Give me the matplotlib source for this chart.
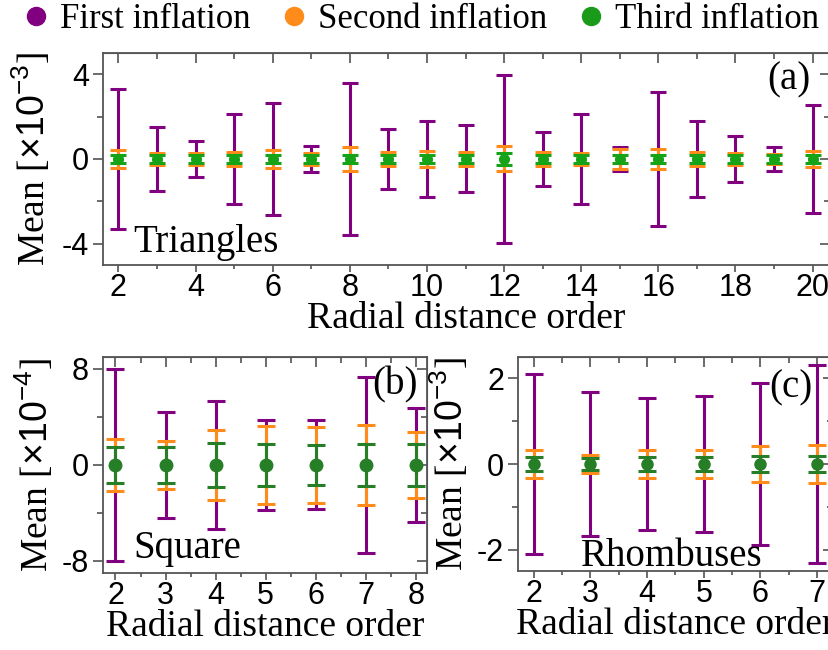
import matplotlib
matplotlib.use("Agg")
import matplotlib.pyplot as plt
from matplotlib.lines import Line2D
from matplotlib.ticker import MultipleLocator

plt.rcParams['font.family'] = ['Liberation Serif', 'DejaVu Serif']
plt.rcParams['mathtext.fontset'] = 'custom'
plt.rcParams['mathtext.rm'] = 'Liberation Sans'
plt.rcParams['mathtext.it'] = 'Liberation Sans'
plt.rcParams['axes.unicode_minus'] = False

PURPLE = "#800080"
ORANGE = "#ff8c1a"
GREEN_A = "#17a317"
GREEN_BC = "#267f26"

# (a) triangles, values in units of 1e-3
orders_a = [2, 3, 4, 5, 6, 7, 8, 9, 10, 11, 12, 13, 14, 15, 16, 17, 18, 19, 20]
mean_a = [0, 0, 0, 0, 0, 0, 0, 0, 0, 0, 0, 0, 0, 0, 0, 0, 0, 0, 0]
first_a = [3.28, 1.53, 0.83, 2.12, 2.62, 0.62, 3.6, 1.43, 1.8, 1.58, 3.94, 1.27, 2.1, 0.55, 3.14, 1.79, 1.1, 0.57, 2.54]
second_a = [0.41, 0.26, 0.29, 0.33, 0.41, 0.26, 0.56, 0.33, 0.4, 0.31, 0.59, 0.33, 0.27, 0.45, 0.45, 0.33, 0.26, 0.22, 0.39]
third_a = [0.2, 0.18, 0.18, 0.2, 0.2, 0.18, 0.2, 0.2, 0.2, 0.2, 0.28, 0.2, 0.18, 0.2, 0.2, 0.2, 0.18, 0.17, 0.2]

# (b) square, units of 1e-4
orders_b = [2, 3, 4, 5, 6, 7, 8]
mean_b = [0, 0, 0, 0, 0, 0, 0]
first_b = [8.0, 4.43, 5.37, 3.74, 3.71, 7.31, 4.78]
second_b = [2.16, 2.0, 2.88, 3.24, 3.2, 3.32, 2.77]
third_b = [1.52, 1.52, 1.85, 1.74, 1.63, 1.72, 1.77]

# (c) rhombuses, units of 1e-3
orders_c = [2, 3, 4, 5, 6, 7]
mean_c = [0, 0, 0, 0, 0, 0]
first_c = [2.1, 1.68, 1.55, 1.59, 1.9, 2.31]
second_c = [0.32, 0.21, 0.32, 0.32, 0.43, 0.44]
third_c = [0.16, 0.15, 0.17, 0.17, 0.19, 0.18]

fig = plt.figure(figsize=(8.29, 6.5), dpi=100)
ax_a = fig.add_axes([0.1242, 0.5923, 0.8770, 0.3262])
ax_b = fig.add_axes([0.1242, 0.1185, 0.3908, 0.3323])
ax_c = fig.add_axes([0.6248, 0.1215, 0.3800, 0.3292])

def draw(ax, x, m, e1, e2, e3, green, ms, cap):
    kw = dict(fmt='none', elinewidth=2.2, capsize=cap, capthick=2.2)
    ax.errorbar(x, m, yerr=e1, ecolor=PURPLE, **kw)
    ax.errorbar(x, m, yerr=e2, ecolor=ORANGE, **kw)
    ax.errorbar(x, m, yerr=e3, fmt='o', color=green, ms=ms, elinewidth=2.2,
                capsize=cap, capthick=2.2)

def style(ax, xmaj, xmin, ymaj, ymin):
    ax.xaxis.set_major_locator(MultipleLocator(xmaj))
    ax.xaxis.set_minor_locator(MultipleLocator(xmin))
    ax.yaxis.set_major_locator(MultipleLocator(ymaj))
    ax.yaxis.set_minor_locator(MultipleLocator(ymin))
    ax.tick_params(which='both', direction='out', width=1.1, color='#444444',
                   labelsize=22)
    ax.tick_params(axis='y', which='major', length=7, pad=3)
    ax.tick_params(axis='y', which='minor', length=4)
    ax.tick_params(axis='x', which='major', length=5, pad=1)
    ax.tick_params(axis='x', which='minor', length=3)
    for lab in ax.get_xticklabels() + ax.get_yticklabels():
        lab.set_family('Liberation Sans')
    for sp in ax.spines.values():
        sp.set_color('#555555')
        sp.set_linewidth(1.3)
    top = ax.secondary_xaxis('top')
    top.xaxis.set_major_locator(MultipleLocator(xmaj))
    top.xaxis.set_minor_locator(MultipleLocator(xmin))
    top.tick_params(which='both', direction='in', labeltop=False, width=1.1, color='#444444')
    top.tick_params(which='major', length=7)
    top.tick_params(which='minor', length=4)
    top.spines['top'].set_color('#555555')
    right = ax.secondary_yaxis('right')
    right.yaxis.set_major_locator(MultipleLocator(ymaj))
    right.yaxis.set_minor_locator(MultipleLocator(ymin))
    right.tick_params(which='both', direction='in', labelright=False, width=1.1, color='#444444')
    right.tick_params(which='major', length=7)
    right.tick_params(which='minor', length=4)
    right.spines['right'].set_color('#555555')

draw(ax_a, orders_a, mean_a, first_a, second_a, third_a, GREEN_A, 7, 6)
ax_a.set_xlim(1.6, 20.45)
ax_a.set_ylim(-5, 5)
style(ax_a, 2, 1, 4, 2)
ax_a.set_xlabel('Radial distance order', fontsize=27, labelpad=-1)
ax_a.set_ylabel('Mean [$\\times10^{-3}$]', fontsize=27, labelpad=6)
ax_a.text(0.943, 0.873, '(a)', transform=ax_a.transAxes, fontsize=28, ha='center', va='center')
ax_a.text(0.041, 0.06, 'Triangles', transform=ax_a.transAxes, fontsize=28, ha='left', va='baseline')

draw(ax_b, orders_b, mean_b, first_b, second_b, third_b, GREEN_BC, 9, 6.5)
ax_b.set_xlim(1.75, 8.22)
ax_b.set_ylim(-9, 9)
style(ax_b, 1, 0.5, 8, 4)
ax_b.set_xlabel('Radial distance order', fontsize=27, labelpad=-1)
ax_b.set_ylabel('Mean [$\\times10^{-4}$]', fontsize=27, labelpad=4)
ax_b.text(0.90, 0.87, '(b)', transform=ax_b.transAxes, fontsize=28, ha='center', va='center')
ax_b.text(0.093, 0.07, 'Square', transform=ax_b.transAxes, fontsize=28, ha='left', va='baseline')

draw(ax_c, orders_c, mean_c, first_c, second_c, third_c, GREEN_BC, 8, 6.5)
ax_c.set_xlim(1.72, 7.28)
ax_c.set_ylim(-2.5, 2.5)
style(ax_c, 1, 0.5, 2, 1)
ax_c.set_xlabel('Radial distance order', fontsize=27, labelpad=-1)
ax_c.set_ylabel('Mean [$\\times10^{-3}$]', fontsize=27, labelpad=4)
ax_c.text(0.866, 0.855, '(c)', transform=ax_c.transAxes, fontsize=28, ha='center', va='center')
ax_c.text(0.487, 0.025, 'Rhombuses', transform=ax_c.transAxes, fontsize=28, ha='center', va='baseline')

handles = [Line2D([], [], ls='none', marker='o', ms=13, color=c) for c in (PURPLE, ORANGE, '#1a9a1a')]
fig.legend(handles, ['First inflation', 'Second inflation', 'Third inflation'],
           loc='upper center', bbox_to_anchor=(0.508, 1.0), ncol=3, frameon=False,
           fontsize=25, handlelength=0.7, handletextpad=0.35, columnspacing=0.9,
           borderaxespad=0.0, borderpad=0.1)

fig.savefig('out.png', dpi=100)
